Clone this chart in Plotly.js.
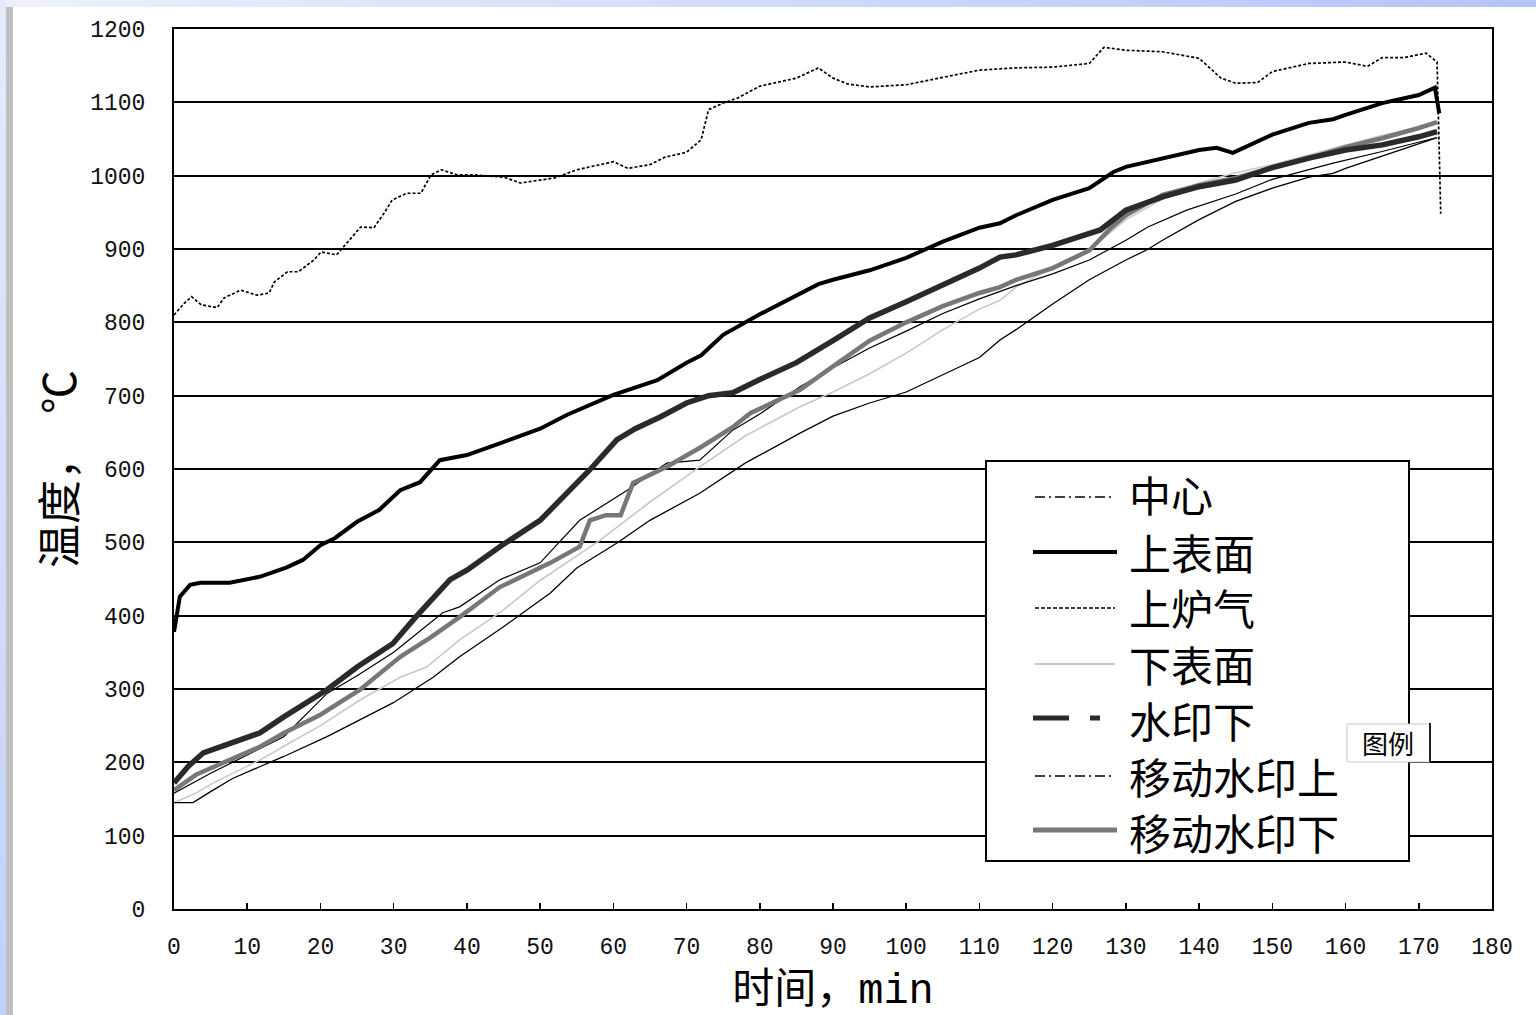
<!DOCTYPE html>
<html>
<head>
<meta charset="utf-8">
<script src="https://cdn.plot.ly/plotly-3.0.1.min.js"></script>
<style>
  html, body { margin:0; padding:0; background:#ffffff; }
  #wrap { position:relative; width:1536px; height:1015px; overflow:hidden; background:#ffffff; }
  #topband { position:absolute; left:0; top:0; width:1536px; height:7px; background:linear-gradient(to right, #eef1fc, #b2c5f8); }
  #leftband { position:absolute; left:0; top:0; width:6px; height:1015px; background:linear-gradient(to bottom, #e6ebfc, #c2cffa); }
  #greybar { position:absolute; left:6px; top:7px; width:7px; height:1008px; background:#c0c0c0; }
  #chart { position:absolute; left:0; top:0; width:1536px; height:1040px; }
</style>
</head>
<body>
<div id="wrap">
  <div id="topband"></div>
  <div id="leftband"></div>
  <div id="greybar"></div>
  <div id="chart"></div>
</div>
<script>
// ---------------- data ----------------
const seriesNames = ["中心", "上表面", "上炉气", "下表面", "水印下", "移动水印上", "移动水印下"];

// 上炉气 (upper furnace gas)
const tFurnace = [0,1.4,2.4,3.7,5.9,6.8,9.1,11.3,13,13.7,15.5,17,19.1,20.1,22.2,23.6,25.5,27.3,28.7,29.8,31.8,33.7,35.1,36.5,38.7,41,45,47.3,50,52,55,57,60,62,65,67,70,72,73,75,77,80,83,85,88,90,92,95,100,105,110,115,120,125,127,130,135,140,143,145,148,150,155,160,163,165,168,171,172.5,173];
const vFurnace = [810,826,835,824,820,833,844,837,840,855,869,869,885,896,892,908,930,929,949,967,976,976,1001,1008,1001,1001,998,990,994,997,1008,1012,1019,1010,1015,1025,1032,1049,1090,1099,1106,1122,1128,1133,1147,1133,1125,1121,1124,1134,1144,1147,1148,1153,1175,1171,1169,1160,1133,1126,1127,1142,1153,1155,1149,1161,1161,1167,1155,948];

// 上表面 (upper surface)
const tUpper = [0,0.4,0.8,2.2,3.6,7.6,11.7,15.4,17.6,20,22,25,28,30.9,33.6,36.3,40,44.5,50,53.7,60,66,70,72,75,80,85,88,90,95,100,105,110,112.8,115,120,125,128.3,130,135,140,142.4,144.6,150,155,158.3,160,165,170,172.2,172.8];
const vUpper = [378,404,426,442,445,445,453,466,476,496,506,528,544,571,582,612,619,635,655,674,701,721,745,755,783,811,837,852,858,871,888,910,929,935,946,967,983,1005,1012,1024,1035,1038,1031,1056,1072,1077,1083,1099,1110,1120,1085];

// 水印下 (under water mark)
const tMark = [0,2,4,11.7,15,20.9,25,29.9,33,37.7,40,44.5,50,53,56.8,60.5,63,66.4,70,73,76.3,80,85,90,95,100,105,110,112.8,115,120,126.5,130,132.9,135,140,145,150,155,160,165,170,172.5];
const vMark = [172,195,213,240,262,299,330,362,398,449,462,494,530,560,599,640,655,671,690,700,704,722,745,775,806,828,851,874,889,892,905,926,953,964,971,985,994,1011,1024,1035,1042,1053,1060];

// 移动水印下 (moving water mark, lower)
const tMoveLow = [0,3,5,11.7,15,20,25.4,30.9,35,39,44.5,51.4,55.4,56.8,59,61,62.7,67.3,72,76.3,78.7,85.5,90,95,100,105,110,112.8,115,120,125,128,130,135,140,145,150,155,160,165,170,172.5];
const vMoveLow = [162,183,192,221,240,265,299,344,370,398,439,472,494,530,537,537,581,603,630,657,676,708,740,775,800,822,840,848,858,874,898,929,946,974,987,997,1011,1024,1039,1051,1065,1073];

// 移动水印上 (moving water mark, upper)
const tMoveUp = [0,5,10,15,20.9,25,30,36.7,39,44.5,50,55.4,61.9,67.3,71.8,76.3,80,85.5,90,95,100,105,110,115,120,125,130,133,138.3,145,150,158.3,165,170,172.5];
const vMoveUp = [158,185,210,235,294,318,350,404,412,449,472,530,571,608,612,653,675,712,738,765,788,812,832,850,866,885,912,930,953,975,995,1017,1033,1045,1052];

// 下表面 (lower surface)
const tLower = [0,3,5,11.7,15,20,25.4,30.9,34.5,37.7,39,44.5,50,58.2,65,71.8,78,85.5,90,95,100,105,110,112.8,115,120,125.5,130,135,140,144.6,150,155,160,165,170,172.5];
const vLower = [145,158,170,203,222,250,285,316,330,357,367,404,448,503,555,603,645,685,705,730,758,790,818,830,848,875,903,940,968,990,1003,1015,1028,1042,1055,1066,1072];

// 中心 (centre)
const tCenter = [0,2.6,5,8,11.7,15,20.9,25,29.9,35.4,39,45,51.4,55,60.5,65,71.8,78,85.5,90,95,100,105,110,112.8,115,120,125,130,132.9,135,140,145,150,155,158.3,160,165,170,172.5];
const vCenter = [145,145,160,178,194,208,235,256,281,316,344,385,431,465,499,530,567,608,649,672,690,705,728,752,776,790,825,858,885,899,912,940,965,983,998,1003,1010,1027,1043,1052];

const xTickVals = [0,10,20,30,40,50,60,70,80,90,100,110,120,130,140,150,160,170,180];
const yTickVals = [0,100,200,300,400,500,600,700,800,900,1000,1100,1200];

// ---------------- traces ----------------
const traces = [
  {x:tLower, y:vLower, name:seriesNames[3], mode:'lines', line:{color:'#c8c8c8', width:1.6}},
  {x:tCenter, y:vCenter, name:seriesNames[0], mode:'lines', line:{color:'#000000', width:1.3}},
  {x:tMoveUp, y:vMoveUp, name:seriesNames[5], mode:'lines', line:{color:'#000000', width:1.2}},
  {x:tMoveLow, y:vMoveLow, name:seriesNames[6], mode:'lines', line:{color:'#777777', width:4.5}},
  {x:tMark, y:vMark, name:seriesNames[4], mode:'lines', line:{color:'#2a2a2a', width:5.5}},
  {x:tUpper, y:vUpper, name:seriesNames[1], mode:'lines', line:{color:'#000000', width:4}},
  {x:tFurnace, y:vFurnace, name:seriesNames[2], mode:'lines', line:{color:'#000000', width:1.7, dash:'3px,2px'}}
];

// ---------------- custom legend (paper coordinates) ----------------
const W = 1536, H = 1040;
const L = 174, R = 1492, T = 29, B = 909;
const px = v => (v - L) / (R - L);
const py = v => (B - v) / (B - T);

const shapes = [
  {type:'rect', xref:'paper', yref:'paper', x0:px(986), x1:px(1409), y0:py(861), y1:py(461),
   fillcolor:'#ffffff', line:{color:'#000000', width:2}, layer:'above'},
  {type:'line', xref:'paper', yref:'paper', x0:px(1035), x1:px(1113), y0:py(497), y1:py(497),
   line:{color:'#000000', width:1.4, dash:'10px,4px,2px,4px'}, layer:'above'},
  {type:'line', xref:'paper', yref:'paper', x0:px(1033), x1:px(1117), y0:py(552), y1:py(552),
   line:{color:'#000000', width:4}, layer:'above'},
  {type:'line', xref:'paper', yref:'paper', x0:px(1035), x1:px(1115), y0:py(608), y1:py(608),
   line:{color:'#000000', width:1.5, dash:'4px,2px'}, layer:'above'},
  {type:'line', xref:'paper', yref:'paper', x0:px(1035), x1:px(1115), y0:py(664), y1:py(664),
   line:{color:'#c8c8c8', width:2}, layer:'above'},
  {type:'line', xref:'paper', yref:'paper', x0:px(1033), x1:px(1100), y0:py(718), y1:py(718),
   line:{color:'#2a2a2a', width:5, dash:'36px,21px,10px,40px'}, layer:'above'},
  {type:'line', xref:'paper', yref:'paper', x0:px(1035), x1:px(1113), y0:py(776), y1:py(776),
   line:{color:'#000000', width:1.4, dash:'10px,4px,2px,4px'}, layer:'above'},
  {type:'line', xref:'paper', yref:'paper', x0:px(1033), x1:px(1117), y0:py(830), y1:py(830),
   line:{color:'#777777', width:5}, layer:'above'},
  // "图例" tag box
  {type:'rect', xref:'paper', yref:'paper', x0:px(1347), x1:px(1430), y0:py(762), y1:py(724),
   fillcolor:'#ffffff', line:{color:'#c8c8c8', width:1}, layer:'above'},
  {type:'line', xref:'paper', yref:'paper', x0:px(1430), x1:px(1430), y0:py(762), y1:py(723),
   line:{color:'#222222', width:2}, layer:'above'}
];

const legendOrder = [0,1,2,3,4,5,6];
const rowY = [494, 551, 607, 663, 719, 775, 831];
const cjk = '"Noto Sans CJK SC", "Noto Sans", sans-serif';
const annotations = legendOrder.map((k, i) => ({
  xref:'paper', yref:'paper', x:px(1127), y:py(rowY[i]), xanchor:'left', yanchor:'middle',
  text:seriesNames[k], showarrow:false, font:{family:cjk, size:42, color:'#000000'}
}));
annotations.push({xref:'paper', yref:'paper', x:px(1388), y:py(742), xanchor:'center', yanchor:'middle',
  text:'图例', showarrow:false, font:{family:cjk, size:26, color:'#000000'}});

const tickFont = {family:'"Liberation Mono", "DejaVu Sans Mono", monospace', size:23, color:'#111111'};

const layout = {
  width:W, height:H,
  margin:{l:L, r:W-R, t:T, b:H-B, pad:0},
  paper_bgcolor:'rgba(0,0,0,0)',
  plot_bgcolor:'#ffffff',
  showlegend:false,
  xaxis:{
    range:[0,180], tickvals:xTickVals, ticktext:xTickVals.map(String),
    ticks:'inside', ticklen:6, tickwidth:1.5, tickcolor:'#000000',
    showline:true, linecolor:'#000000', linewidth:2, mirror:true,
    showgrid:false, zeroline:false, tickfont:tickFont, ticklabelstandoff:15,
    title:{text:'时间，min', font:{family:'"Liberation Mono", "Noto Sans CJK SC", monospace', size:42, color:'#000000'}, standoff:14}
  },
  yaxis:{
    range:[0,1200], tickvals:yTickVals, ticktext:yTickVals.map(String),
    ticks:'', showline:true, linecolor:'#000000', linewidth:2, mirror:true,
    showgrid:true, gridcolor:'#000000', gridwidth:2, zeroline:false,
    tickfont:tickFont, ticklabelstandoff:22,
    title:{text:'温度，　℃', font:{family:cjk, size:44, color:'#000000'}, standoff:0}
  },
  shapes:shapes,
  annotations:annotations
};

Plotly.newPlot('chart', traces, layout, {displayModeBar:false, staticPlot:true});
</script>
</body>
</html>
